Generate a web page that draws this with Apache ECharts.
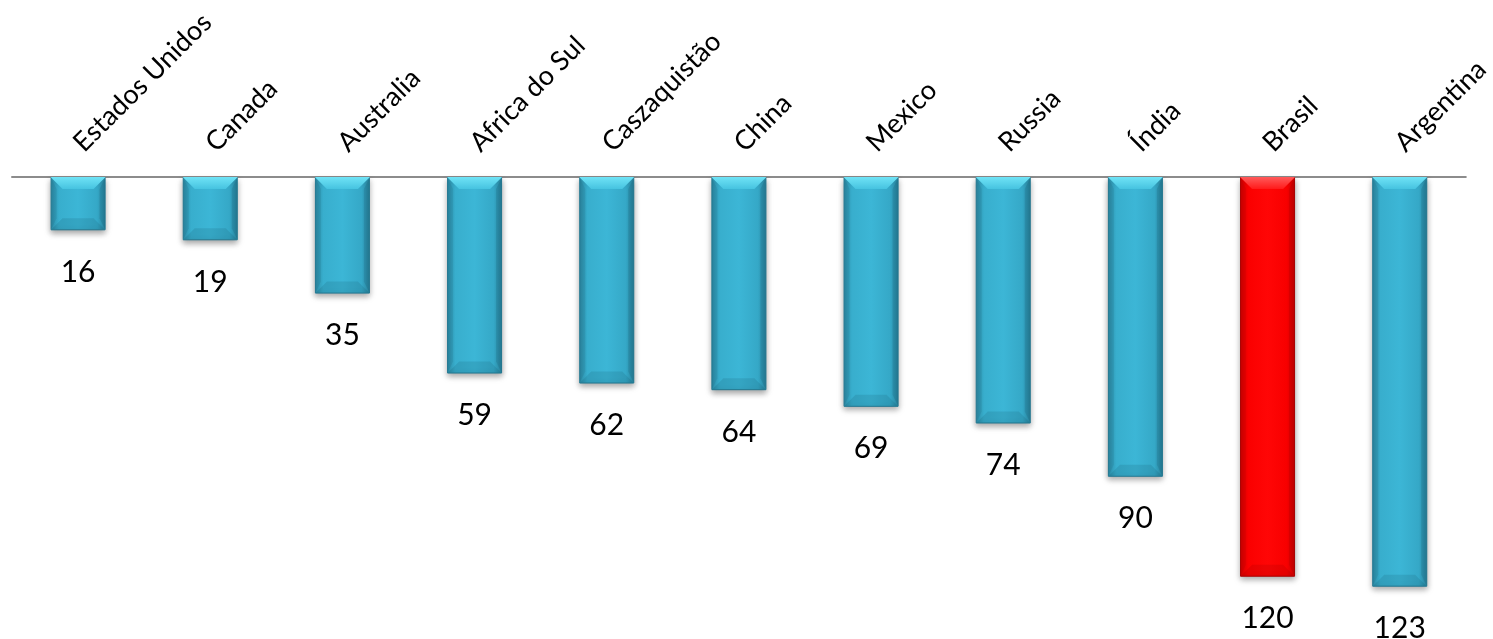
<!DOCTYPE html>
<html>
<head>
<meta charset="utf-8">
<script src="https://cdn.jsdelivr.net/npm/echarts@6/dist/echarts.min.js"></script>
<style>html,body{margin:0;padding:0;background:#fff;}#c{width:1493px;height:639px;}</style>
</head>
<body>
<div id="c"></div>
<script>
const categories = ['Estados Unidos','Canada','Australia','Africa do Sul','Caszaquistão','China','Mexico','Russia','Índia','Brasil','Argentina'];
const values = [16,19,35,59,62,64,69,74,90,120,123];
const highlight = 'Brasil';

const blue = {type:'linear',x:0,y:0,x2:1,y2:0,colorStops:[
  {offset:0,color:'#2e8faa'},{offset:0.15,color:'#38aecd'},{offset:0.5,color:'#3cb6d6'},{offset:0.85,color:'#35a8c7'},{offset:1,color:'#2a86a0'}]};
const red = {type:'linear',x:0,y:0,x2:1,y2:0,colorStops:[
  {offset:0,color:'#d80000'},{offset:0.15,color:'#fa0000'},{offset:0.5,color:'#ff0606'},{offset:0.85,color:'#f80000'},{offset:1,color:'#d00000'}]};

const BAR_W = 55, BEV = 12;
function bevel(params, api){
  const i = api.value(0);
  const top = api.coord([i, 0]);
  const end = api.coord([i, api.value(1)]);
  const x = top[0], y0 = top[1], y1 = end[1];
  const l = x - BAR_W/2, r = x + BAR_W/2;
  const isRed = categories[i] === highlight;
  const b = Math.min(BEV, (y1 - y0)/3);
  return {type:'group', children:[
    {type:'polygon', shape:{points:[[l,y0],[r,y0],[r-b,y0+b],[l+b,y0+b]]},
     style:{fill:{type:'linear',x:0,y:0,x2:0,y2:1,colorStops:[{offset:0,color: isRed?'#ff5a5a':'#6fe3f6'},{offset:1,color: isRed?'#ff1a1a':'#46c3e0'}]}}},
    {type:'polygon', shape:{points:[[l,y1],[r,y1],[r-b,y1-b],[l+b,y1-b]]},
     style:{fill: isRed?'rgba(150,0,0,0.18)':'rgba(20,80,100,0.16)'}},
    {type:'polygon', shape:{points:[[l,y0],[l+b*0.5,y0+b],[l+b*0.5,y1-b],[l,y1]]},
     style:{fill: isRed?'rgba(120,0,0,0.10)':'rgba(10,60,80,0.10)'}},
    {type:'polygon', shape:{points:[[r,y0],[r-b*0.5,y0+b],[r-b*0.5,y1-b],[r,y1]]},
     style:{fill: isRed?'rgba(120,0,0,0.14)':'rgba(10,60,80,0.14)'}}
  ]};
}

const chart = echarts.init(document.getElementById('c'));
chart.setOption({
  animation:false,
  grid:{left:12,right:21,top:177,bottom:29,containLabel:false},
  xAxis:{
    type:'category', position:'top', data:categories,
    axisLine:{lineStyle:{color:'#8c8c8c',width:2}},
    axisTick:{show:false},
    axisLabel:{rotate:45, margin:30, verticalAlign:'middle', interval:0,
      fontFamily:'Lato', fontSize:27, color:'#000'}
  },
  yAxis:{type:'value', inverse:true, min:0, max:130, show:false, splitLine:{show:false}},
  series:[{
    type:'bar', barWidth:BAR_W,
    data: values.map((v,i)=>({value:v, itemStyle:{color: categories[i]===highlight ? red : blue,
      borderColor: categories[i]===highlight ? '#b00000' : '#27809a', borderWidth:1}})),
    itemStyle:{shadowColor:'rgba(0,0,0,0.35)', shadowBlur:6, shadowOffsetY:3},
    label:{show:true, position:'bottom', distance:27, fontFamily:'Lato', fontSize:30, color:'#000'}
  },{
    type:'custom', renderItem:bevel, silent:true, z:3,
    data: values.map((v,i)=>[i,v])
  }]
});
</script>
</body>
</html>
